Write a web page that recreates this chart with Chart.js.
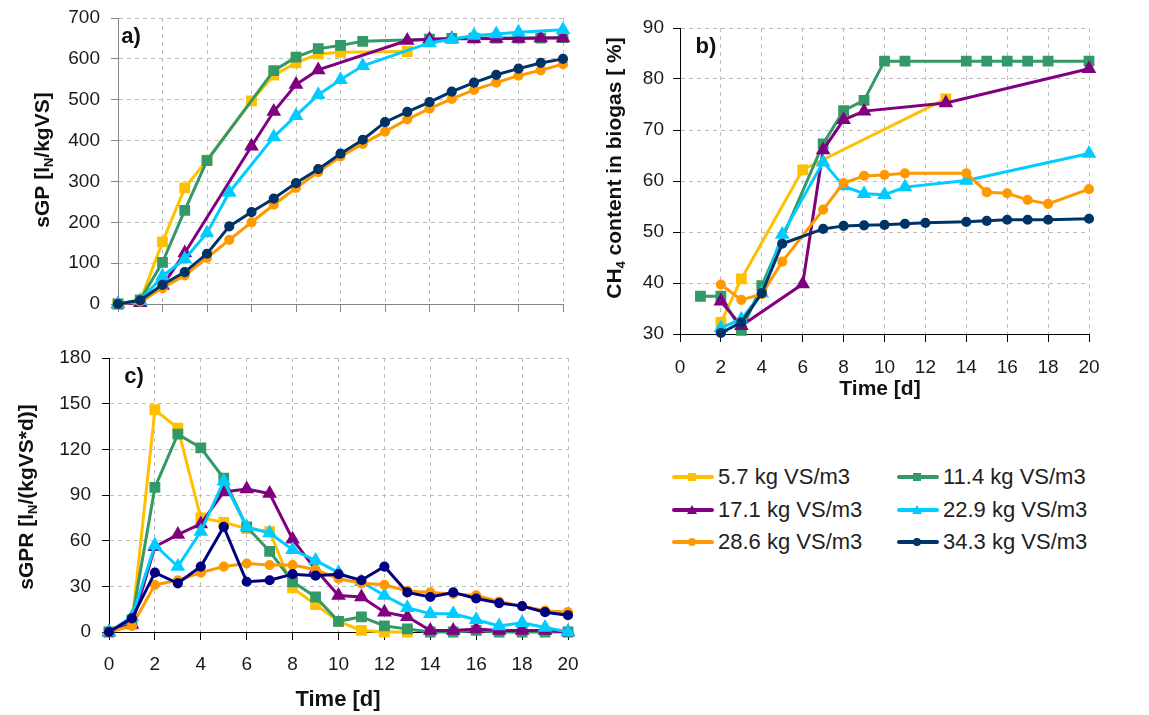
<!DOCTYPE html>
<html lang="en">
<head>
<meta charset="UTF-8">
<title>sGP, CH4 and sGPR</title>
<script src="https://cdn.jsdelivr.net/npm/chart.js"></script>
<style>
  body {
    margin: 0;
    background: #ffffff;
    font-family: 'Liberation Sans', Arial, sans-serif;
  }
  #wrap {
    position: relative;
    width: 1149px;
    height: 715px;
    overflow: hidden;
  }
  canvas { position: absolute; }
  #legend {
    position: absolute;
    left: 672px;
    top: 461px;
    display: grid;
    grid-template-columns: 225px 225px;
    grid-auto-rows: 32.5px;
    font-size: 22px;
    color: #222;
  }
  .item { display: flex; align-items: center; white-space: nowrap; }
  .item svg { margin-right: 4px; }
</style>
</head>
<body>
<div id="wrap">
  <canvas id="chartA" width="575" height="330" style="left:0;top:0"></canvas>
  <canvas id="chartB" width="574" height="410" style="left:575px;top:0"></canvas>
  <canvas id="chartC" width="590" height="385" style="left:0;top:330px"></canvas>
  <div id="legend"></div>
</div>

<script>
// ---- data (index = day 0..20, null = no measurement) ----
const days = [0, 1, 2, 3, 4, 5, 6, 7, 8, 9, 10, 11, 12, 13, 14, 15, 16, 17, 18, 19, 20];
const seriesNames = ['5.7 kg VS/m3', '11.4 kg VS/m3', '17.1 kg VS/m3', '22.9 kg VS/m3', '28.6 kg VS/m3', '34.3 kg VS/m3'];

// a) cumulative specific gas production sGP
const sgp57  = [0, 7, 152, 284, 352, null, 497, 560, 590, 612, 616, null, null, 618, null, null, null, null, null, null, null];
const sgp114 = [0, 10, 102, 229, 351, null, null, 571, 604, 625, 633, 643, null, null, 648, 650, 651, 651, 651, 651, 652];
const sgp171 = [0, 3, 45, 125, null, null, 386, 471, 537, 573, null, null, null, 645, 648, 649, 649, 650, 650, 651, 651];
const sgp229 = [0, 8, 68, 110, 174, 273, null, 409, 461, 512, 549, 583, null, null, 639, 648, 657, 661, 665, null, 671];
const sgp286 = [0, 6, 39, 70, 113, 157, 200, 243, 284, 323, 361, 392, 422, 452, 478, 502, 524, 542, 559, 572, 587];
const sgp343 = [0, 9, 47, 78, 123, 190, 225, 258, 296, 330, 368, 402, 445, 470, 494, 520, 542, 561, 576, 590, 600];

// b) CH4 content in biogas [%]
const ch457  = [null, null, 32.3, 40.8, null, null, 62.2, null, null, null, null, null, null, 76.1, null, null, null, null, null, null, null];
const ch4114 = [null, 37.4, 37.4, 30.7, 39.5, null, null, 67.3, 73.8, 75.8, 83.5, 83.5, null, null, 83.5, 83.5, 83.5, 83.5, 83.5, null, 83.5];
const ch4171 = [null, null, 36.4, 31.6, null, null, 39.8, 66.1, 72.0, 73.7, null, null, null, 75.3, null, null, null, null, null, null, 82.0];
const ch4229 = [null, null, 31.2, 32.9, 38.0, 49.5, null, 63.7, 59.0, 57.5, 57.3, 58.8, null, null, 60.1, null, null, null, null, null, 65.4];
const ch4286 = [null, null, 39.7, 36.7, 37.8, 44.2, null, 54.4, 59.6, 61.0, 61.2, 61.5, null, null, 61.5, 57.8, 57.6, 56.3, 55.5, null, 58.4];
const ch4343 = [null, null, 30.2, 32.3, 38.0, 47.7, null, 50.6, 51.2, 51.3, 51.4, 51.6, 51.8, null, 52.0, 52.2, 52.4, 52.4, 52.4, null, 52.6];

// c) specific gas production rate sGPR
const sgpr57  = [0, 5, 146, 134, 75, 72, 68, 66, 29, 18, 7, 1, 0, 0, null, null, null, null, null, null, null];
const sgpr114 = [0, 8, 95, 130, 121, 101, 69, 53, 33, 23, 7, 10, 4, 2, 0, 0, 1, 0, 0, 0, 0];
const sgpr171 = [0, 5, 56, 64, 71, 92, 94, 91, 61, 41, 24, 23, 13, 10, 1, 1, 2, 1, 1, 1, 0];
const sgpr229 = [0, 10, 57, 43, 66, 99, 69, 65, 54, 47, 39, 33, 24, 16, 12, 12, 8, 4, 6, 3, 0];
const sgpr286 = [0, 4, 31, 34, 39, 43, 45, 44, 44, 41, 35, 32, 31, 27, 26, 25, 24, 20, 17, 14, 13];
const sgpr343 = [0, 9, 39, 32, 43, 69, 33, 34, 38, 37, 38, 34, 43, 26, 23, 26, 22, 19, 17, 13, 11];

// ---- styles ----
const colors = ['#FFC000', '#339966', '#800080', '#00CCFF', '#FF9900', '#003366'];
const navyC = '#000080';
const markers = ['rect', 'rect', 'triangle', 'triangle', 'circle', 'circle'];
const markerSize = [5.5, 5.5, 5.5, 5.5, 3.6, 3.6];
const FONT = "'Liberation Sans', Arial, sans-serif";

Chart.defaults.font.family = FONT;
Chart.defaults.font.size = 19;
Chart.defaults.color = '#1a1a1a';

function makeSets(valueLists, cols) {
  return valueLists.map((vals, i) => ({
    label: seriesNames[i],
    data: days.map((d, k) => ({ x: d, y: vals[k] })),
    borderColor: cols[i],
    backgroundColor: cols[i],
    pointBackgroundColor: cols[i],
    pointBorderColor: cols[i],
    pointStyle: markers[i],
    pointRadius: markerSize[i],
    borderWidth: 3,
    tension: 0,
    spanGaps: true,
    clip: false,
    order: 6 - i
  }));
}

// draws text with subscript parts, centred at (cx, cy)
function drawRich(ctx, runs, cx, cy, rotated, size) {
  const big = 'bold ' + size + 'px ' + FONT;
  const small = 'bold ' + Math.round(size * 0.62) + 'px ' + FONT;
  ctx.save();
  ctx.translate(cx, cy);
  if (rotated) ctx.rotate(-Math.PI / 2);
  let total = 0;
  runs.forEach(r => { ctx.font = r.sub ? small : big; total += ctx.measureText(r.t).width; });
  let x = -total / 2;
  ctx.fillStyle = '#111';
  ctx.textBaseline = 'middle';
  ctx.textAlign = 'left';
  runs.forEach(r => {
    ctx.font = r.sub ? small : big;
    ctx.fillText(r.t, x, r.sub ? size * 0.3 : 0);
    x += ctx.measureText(r.t).width;
  });
  ctx.restore();
}

function labelsPlugin(items) {
  return {
    id: 'labels',
    afterDraw(chart) {
      const ctx = chart.ctx;
      items.forEach(it => drawRich(ctx, it.runs, it.x, it.y, it.rot, it.size));
    }
  };
}

function axes(yMin, yMax, yStep, yWidth, xHeight, axisColor, showX, xPad, yPad) {
  return {
    x: {
      type: 'linear', min: 0, max: 20,
      ticks: { stepSize: 2, display: showX, padding: xPad },
      grid: { color: '#bfbfbf', tickColor: axisColor, tickLength: 8 },
      border: { color: axisColor, width: 1, dash: [4, 4] },
      afterFit(s) { s.height = xHeight; s.paddingLeft = 0; s.paddingRight = 0; }
    },
    y: {
      min: yMin, max: yMax,
      ticks: { stepSize: yStep, padding: yPad },
      grid: { color: '#bfbfbf', tickColor: axisColor, tickLength: 7 },
      border: { color: axisColor, width: 1, dash: [4, 4] },
      afterFit(s) { s.width = yWidth; s.paddingTop = 0; s.paddingBottom = 0; }
    }
  };
}

function baseOptions(padding, scales) {
  return {
    responsive: false,
    animation: false,
    layout: { padding: padding },
    plugins: { legend: { display: false }, tooltip: { enabled: false } },
    scales: scales
  };
}

// a) sGP
new Chart(document.getElementById('chartA'), {
  type: 'line',
  data: { datasets: makeSets([sgp57, sgp114, sgp171, sgp229, sgp286, sgp343], colors) },
  options: baseOptions({ left: 0, top: 18, right: 12, bottom: 0 },
    axes(0, 700, 100, 118, 26, '#868686', false, 0, 11)),
  plugins: [labelsPlugin([
    { runs: [{ t: 'sGP [l' }, { t: 'N', sub: true }, { t: '/kgVS]' }], x: 43, y: 160, rot: true, size: 21 },
    { runs: [{ t: 'a)' }], x: 131, y: 37, rot: false, size: 22 }
  ])]
});

// b) CH4 content
new Chart(document.getElementById('chartB'), {
  type: 'line',
  data: { datasets: makeSets([ch457, ch4114, ch4171, ch4229, ch4286, ch4343], colors) },
  options: baseOptions({ left: 0, top: 28, right: 60, bottom: 0 },
    axes(30, 90, 10, 105, 76, '#000000', true, 14, 9)),
  plugins: [labelsPlugin([
    { runs: [{ t: 'CH' }, { t: '4', sub: true }, { t: ' content in biogas [ %]' }], x: 40, y: 168, rot: true, size: 21 },
    { runs: [{ t: 'Time [d]' }], x: 305, y: 389, rot: false, size: 21 },
    { runs: [{ t: 'b)' }], x: 131, y: 47, rot: false, size: 22 }
  ])]
});

// c) sGPR
new Chart(document.getElementById('chartC'), {
  type: 'line',
  data: { datasets: makeSets([sgpr57, sgpr114, sgpr171, sgpr229, sgpr286, sgpr343],
    colors.slice(0, 5).concat([navyC])) },
  options: baseOptions({ left: 0, top: 28, right: 22, bottom: 0 },
    axes(0, 180, 30, 109, 83, '#000000', true, 13, 11)),
  plugins: [labelsPlugin([
    { runs: [{ t: 'sGPR [l' }, { t: 'N', sub: true }, { t: '/(kgVS*d)]' }], x: 27, y: 167, rot: true, size: 21 },
    { runs: [{ t: 'Time [d]' }], x: 338, y: 370, rot: false, size: 22 },
    { runs: [{ t: 'c)' }], x: 134, y: 47, rot: false, size: 22 }
  ])]
});

// legend
function markerSvg(i) {
  const c = colors[i];
  let m = '';
  if (markers[i] === 'rect') m = '<rect x="16" y="3" width="8" height="8" fill="' + c + '"/>';
  else if (markers[i] === 'triangle') m = '<polygon points="20,2 25,11 15,11" fill="' + c + '"/>';
  else m = '<circle cx="20" cy="7" r="4" fill="' + c + '"/>';
  return '<svg width="42" height="14"><line x1="2" y1="7" x2="40" y2="7" stroke="' + c +
    '" stroke-width="4" stroke-linecap="round"/>' + m + '</svg>';
}
const legend = document.getElementById('legend');
seriesNames.forEach((name, i) => {
  const div = document.createElement('div');
  div.className = 'item';
  div.innerHTML = markerSvg(i) + '<span>' + name + '</span>';
  legend.appendChild(div);
});
</script>
</body>
</html>
